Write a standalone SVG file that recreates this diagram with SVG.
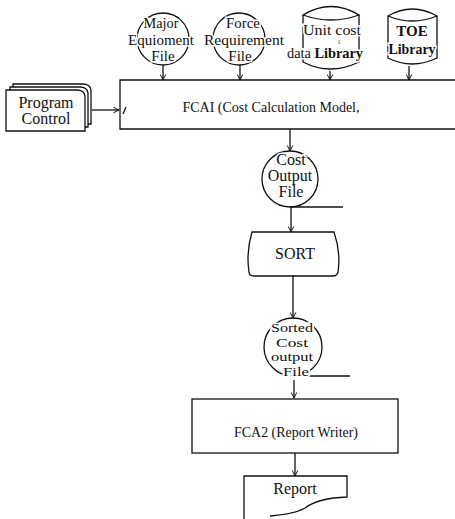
<svg xmlns="http://www.w3.org/2000/svg" width="455" height="519" viewBox="0 0 455 519">
<defs>
<style>
.s{fill:none;stroke:#111;stroke-width:1.3}
.w{fill:#fff;stroke:#111;stroke-width:1.3}
.t{font-family:"Liberation Serif","Times New Roman",serif;font-size:15px;fill:#111;text-anchor:middle}
.h{paint-order:stroke;stroke:#fff;stroke-width:3px}
.b{font-weight:bold}
</style>
<marker id="a" viewBox="0 0 10 10" refX="9" refY="5" markerWidth="7" markerHeight="7" orient="auto" markerUnits="userSpaceOnUse">
<path d="M1,1 L9,5 L1,9" fill="none" stroke="#111" stroke-width="1.4"/>
</marker>
</defs>
<rect width="455" height="519" fill="#fff"/>

<g id="connectors" class="s">
<line x1="163" y1="65" x2="163" y2="80" marker-end="url(#a)"/>
<line x1="240" y1="65" x2="240" y2="80" marker-end="url(#a)"/>
<line x1="330" y1="71" x2="330" y2="80" marker-end="url(#a)"/>
<line x1="409" y1="66" x2="409" y2="80" marker-end="url(#a)"/>
<line x1="92" y1="110" x2="119" y2="110" marker-end="url(#a)"/>
<line x1="290" y1="129" x2="290" y2="151" marker-end="url(#a)"/>
<line x1="290" y1="207" x2="343" y2="207"/>
<line x1="291" y1="207" x2="291" y2="232" marker-end="url(#a)"/>
<line x1="293" y1="275" x2="293" y2="318" marker-end="url(#a)"/>
<line x1="308" y1="376" x2="350" y2="376"/>
<line x1="294" y1="380" x2="294" y2="398" marker-end="url(#a)"/>
<line x1="295" y1="453" x2="295" y2="476" marker-end="url(#a)"/>
</g>

<g id="major-equipment-file">
<circle class="s" cx="163" cy="39" r="26"/>
<text class="t h" x="161" y="28" textLength="35" lengthAdjust="spacingAndGlyphs">Major</text>
<text class="t h" x="161" y="45" textLength="66" lengthAdjust="spacingAndGlyphs">Equioment</text>
<text class="t h" x="163" y="61">File</text>
</g>

<g id="force-requirement-file">
<circle class="s" cx="239" cy="39" r="26"/>
<text class="t h" x="243" y="28" textLength="34" lengthAdjust="spacingAndGlyphs">Force</text>
<text class="t h" x="244" y="45" textLength="80" lengthAdjust="spacingAndGlyphs">Requirement</text>
<text class="t h" x="240" y="61">File</text>
</g>

<g id="unit-cost-library">
<path class="s" d="M303,15 Q331,-2 359,15 Q331,25 303,15 Z"/>
<path class="s" d="M303,15 L303,62 Q330,76 359,62 L359,15"/>
<text class="t h" x="332" y="35" style="font-size:14px" textLength="58" lengthAdjust="spacingAndGlyphs">Unit cost</text>
<text class="t" x="339" y="44" style="font-size:6px">1</text>
<text class="t h" x="325" y="58" style="font-size:14px" textLength="76" lengthAdjust="spacingAndGlyphs">data <tspan class="b">Library</tspan></text>
</g>

<g id="toe-library">
<path class="s" d="M388,16 Q412,2 437,16 Q412,26 388,16 Z"/>
<path class="s" d="M388,16 L388,58 Q412,70 437,58 L437,16"/>
<text class="t b" x="412" y="36">TOE</text>
<text class="t b h" x="412" y="54" textLength="47" lengthAdjust="spacingAndGlyphs">Library</text>
</g>

<g id="program-control">
<path class="w" d="M13,84 L83,84 Q90,84 91,90 L91,124 L13,124 Z"/>
<path class="w" d="M10,87 L80,87 Q87,87 88,93 L88,127 L10,127 Z"/>
<path class="w" d="M6,90 L77,90 Q84,90 85,96 L85,131 L6,131 Z"/>
<text class="t" x="46" y="108" style="font-size:16px">Program</text>
<text class="t" x="46" y="124" style="font-size:16px">Control</text>
</g>

<g id="fca1">
<path class="s" d="M455,80 L120,80 L120,129 L455,129"/>
<path class="s" d="M123,114 L126,107"/>
<text class="t" x="271" y="112" textLength="177" lengthAdjust="spacingAndGlyphs">FCAI (Cost Calculation Model,</text>
</g>

<g id="cost-output-file">
<circle class="s" cx="290" cy="179" r="28"/>
<text class="t h" x="291" y="165" style="font-size:16px">Cost</text>
<text class="t" x="290" y="181" style="font-size:16px">Output</text>
<text class="t" x="291" y="197" style="font-size:16px">File</text>
</g>

<g id="sort">
<path class="s" d="M252,232 L334,232 Q341,252 338,272 Q337,276 333,276 L254,276 Q249,276 249,272 Q246,252 252,232 Z"/>
<text class="t" x="295" y="259" style="font-size:16px">SORT</text>
</g>

<g id="sorted-cost-output-file">
<circle class="s" cx="293" cy="347" r="29"/>
<text class="t h" x="292" y="332" style="font-size:12.5px" textLength="42" lengthAdjust="spacingAndGlyphs">Sorted</text>
<text class="t h" x="292" y="346.5" style="font-size:12.5px" textLength="32" lengthAdjust="spacingAndGlyphs">Cost</text>
<text class="t h" x="292" y="361" style="font-size:12.5px" textLength="42" lengthAdjust="spacingAndGlyphs">output</text>
<text class="t h" x="296" y="375.5" style="font-size:12.5px" textLength="26" lengthAdjust="spacingAndGlyphs">File</text>
</g>

<g id="fca2">
<rect class="s" x="192" y="399" width="206" height="54"/>
<text class="t" x="296" y="437" textLength="124" lengthAdjust="spacingAndGlyphs">FCA2 (Report Writer)</text>
</g>

<g id="report">
<path class="s" d="M244,519 L244,476 L347,476 L347,497 Q318,498 305,508 Q295,514 270,516"/>
<text class="t" x="295" y="494" style="font-size:16px">Report</text>
</g>
</svg>
